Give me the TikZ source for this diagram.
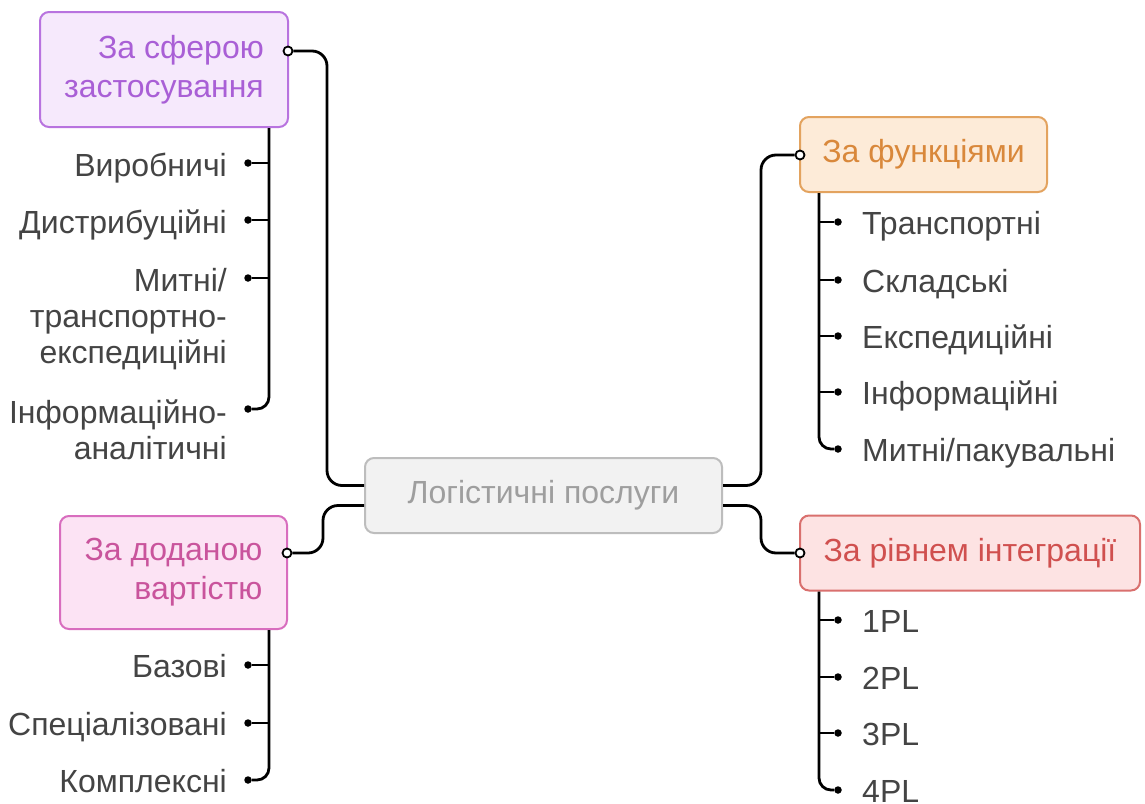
\documentclass[tikz,border=0pt]{standalone}
\usepackage{fontspec}
\setmainfont{Liberation Sans}
\newcommand\mfs{\fontsize{32}{36}\selectfont}
\newcommand\bfs{\fontsize{32}{39}\selectfont}
\definecolor{txt}{HTML}{444444}
\definecolor{purB}{HTML}{B873DF}\definecolor{purF}{HTML}{F6E9FC}\definecolor{purT}{HTML}{A95FD6}
\definecolor{orB}{HTML}{E3A35F}\definecolor{orF}{HTML}{FDEBD8}\definecolor{orT}{HTML}{D9883B}
\definecolor{pkB}{HTML}{D86DBE}\definecolor{pkF}{HTML}{FCE3F4}\definecolor{pkT}{HTML}{C9549C}
\definecolor{rdB}{HTML}{D9706E}\definecolor{rdF}{HTML}{FDE3E3}\definecolor{rdT}{HTML}{D0504F}
\definecolor{ceB}{HTML}{BDBDBD}\definecolor{ceF}{HTML}{F2F2F2}\definecolor{ceT}{HTML}{9E9E9E}
\begin{document}
\begin{tikzpicture}[x=1pt,y=-1pt,
  cat/.style={draw, rounded corners=9pt, line width=2pt, align=center, font=\bfs, inner sep=0pt},
  child/.style={text=txt, font=\mfs, inner sep=0pt, text width=240pt},
  lchild/.style={child, align=right, anchor=base east},
  rchild/.style={child, align=left, anchor=base west},
  port/.style={circle, draw=black, fill=white, line width=1.8pt, inner sep=0pt, minimum size=9pt},
  bullet/.style={circle, fill=black, inner sep=0pt, minimum size=7.5pt},
  link/.style={draw=black, line width=2.8pt, rounded corners=15pt}]
\useasboundingbox[fill=white] (0,0) rectangle (1145,803);

% category boxes
\node[cat, draw=ceB, fill=ceF, text=ceT, minimum width=357pt, minimum height=75pt] (center) at (543.5,495.5) {Логістичні послуги};
\node[cat, draw=purB, fill=purF, text=purT, align=right, minimum width=248pt, minimum height=115pt] (box1) at (164,69.5) {За сферою\\застосування};
\node[cat, draw=pkB, fill=pkF, text=pkT, align=right, minimum width=227pt, minimum height=113pt] (box4) at (173.5,572.5) {За доданою\\вартістю};
\node[cat, draw=orB, fill=orF, text=orT, minimum width=247pt, minimum height=75pt] (box3) at (923.5,154.5) {За функціями};
\node[cat, draw=rdB, fill=rdF, text=rdT, minimum width=340pt, minimum height=75pt] (box5) at (970,553) {За рівнем інтеграції};

% ports
\node[port] (c1) at (288,51) {};
\node[port] (c4) at (287,553) {};
\node[port] (c3) at (800,155) {};
\node[port] (c5) at (800,553) {};

% main links
\draw[link] (c1) -- (327,51) -- (327,485.5) -- ([yshift=10pt]center.west);
\draw[link] ([yshift=-10pt]center.west) -- (323,505.5) -- (323,553) -- (c4);
\draw[link] ([yshift=10pt]center.east) -- (761,485.5) -- (761,155) -- (c3);
\draw[link] ([yshift=-10pt]center.east) -- (761,505.5) -- (761,553) -- (c5);

% left top children
\coordinate (t1) at ([xshift=-20pt]box1.south east);
\node[bullet] (d11) at (248,163) {};
\node[bullet] (d12) at (248,220) {};
\node[bullet] (d13) at (248,278) {};
\node[bullet] (d14) at (248,409) {};
\node[lchild] (n11) at (227,176) {Виробничі};
\node[lchild] (n12) at (227,233) {Дистрибуційні};
\node[lchild] (n13) at (227,291) {Митні/\\транспортно-\\експедиційні};
\node[lchild] (n14) at (227,423) {Інформаційно-\\аналітичні};
\draw[link, rounded corners=12pt] (t1) |- (d14);
\foreach \d in {d11,d12,d13} \draw[link] (\d) -- (\d -| t1);

% left bottom children
\coordinate (t4) at ([xshift=-19pt]box4.south east);
\node[bullet] (d41) at (248,665) {};
\node[bullet] (d42) at (248,723) {};
\node[bullet] (d43) at (248,780) {};
\node[lchild] (n41) at (227,677) {Базові};
\node[lchild] (n42) at (227,735) {Спеціалізовані};
\node[lchild] (n43) at (227,792) {Комплексні};
\draw[link, rounded corners=12pt] (t4) |- (d43);
\foreach \d in {d41,d42} \draw[link] (\d) -- (\d -| t4);

% right top children
\coordinate (t3) at ([xshift=20pt]box3.south west);
\node[bullet] (d31) at (838,222) {};
\node[bullet] (d32) at (838,280) {};
\node[bullet] (d33) at (838,336) {};
\node[bullet] (d34) at (838,392) {};
\node[bullet] (d35) at (838,449) {};
\node[rchild] (n31) at (862,234) {Транспортні};
\node[rchild] (n32) at (862,292) {Складські};
\node[rchild] (n33) at (862,348) {Експедиційні};
\node[rchild] (n34) at (862,404) {Інформаційні};
\node[rchild] (n35) at (862,461) {Митні/пакувальні};
\draw[link, rounded corners=12pt] (t3) |- (d35);
\foreach \d in {d31,d32,d33,d34} \draw[link] (\d) -- (\d -| t3);

% right bottom children
\coordinate (t5) at ([xshift=20pt]box5.south west);
\node[bullet] (d51) at (838,620) {};
\node[bullet] (d52) at (838,677) {};
\node[bullet] (d53) at (838,733) {};
\node[bullet] (d54) at (838,790) {};
\node[rchild] (n51) at (862,632) {1PL};
\node[rchild] (n52) at (862,689) {2PL};
\node[rchild] (n53) at (862,745) {3PL};
\node[rchild] (n54) at (862,802) {4PL};
\draw[link, rounded corners=12pt] (t5) |- (d54);
\foreach \d in {d51,d52,d53} \draw[link] (\d) -- (\d -| t5);
\end{tikzpicture}
\end{document}
